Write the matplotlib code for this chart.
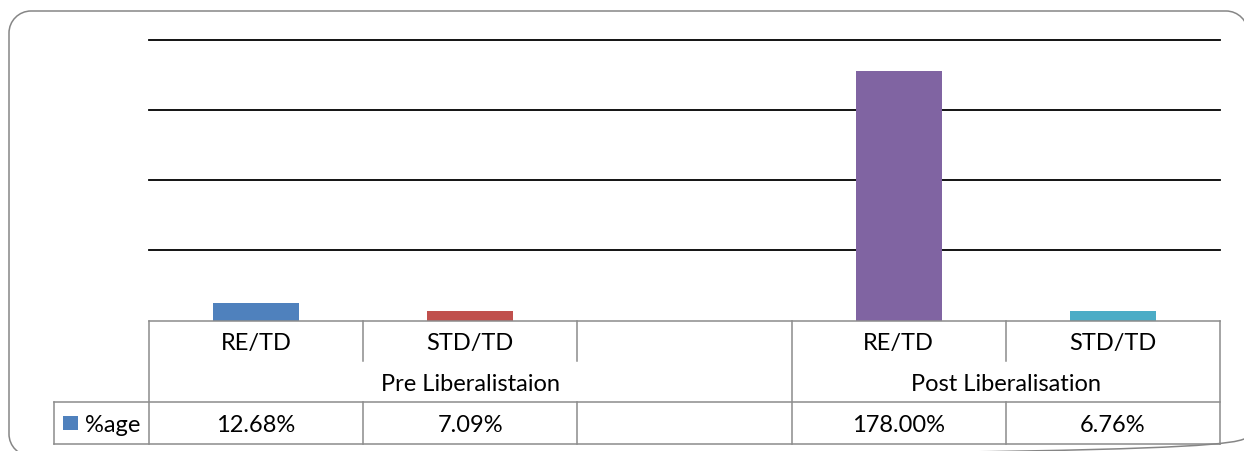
import matplotlib
matplotlib.use("Agg")
import matplotlib.pyplot as plt
from matplotlib.patches import Rectangle, PathPatch
from matplotlib.path import Path
from matplotlib.transforms import blended_transform_factory, Affine2D

# ---- data ----
categories = ["RE/TD", "STD/TD", "", "RE/TD", "STD/TD"]
groups = ["Pre Liberalistaion", "Post Liberalisation"]
group_sizes = [3, 2]
values = [12.68, 7.09, None, 178.00, 6.76]
series_name = "%age"
bar_colors = ["#4F81BD", "#C0504D", "#9BBB59", "#8064A2", "#4BACC6"]
y_ticks = [50, 100, 150, 200]

W, H, DPI = 1244, 452, 100
plt.rcParams['font.family'] = ['Lato', 'DejaVu Sans']
FS = 17
LINE_C = "#8C8C8C"

fig = plt.figure(figsize=(W / DPI, H / DPI), dpi=DPI)
fig.patch.set_facecolor("white")

def fy(py):
    return (H - py) / H

def fx(px):
    return px / W

ax_left, ax_right, ax_top, ax_bottom = 149, 1220, 41, 321.5
ax = fig.add_axes([fx(ax_left), fy(ax_bottom), fx(ax_right) - fx(ax_left), fy(ax_top) - fy(ax_bottom)])
ax.set_xlim(-0.5, len(categories) - 0.5)
ax.set_ylim(0, 200)
for s in ax.spines.values():
    s.set_visible(False)
ax.set_yticks(y_ticks)
ax.set_xticks([])
ax.tick_params(axis='y', length=0, labelleft=False)
ax.yaxis.grid(True, color="black", linewidth=1.3)
for gl in ax.get_ygridlines():
    gl.set_clip_on(False)
ax.set_axisbelow(True)

for i, v in enumerate(values):
    if v is None:
        continue
    ax.bar(i, v, width=0.4, color=bar_colors[i], zorder=3)

# ---- data table below axes ----
bt = blended_transform_factory(ax.transData, fig.transFigure)
r0, r1, r2, r3 = fy(321.5), fy(362), fy(403), fy(444.5)
n = len(categories)
xl, xr = -0.5, n - 0.5
toff = 2.0 / H  # small downward text offset

def line(xs, ys, transform=bt):
    ax.plot(xs, ys, color=LINE_C, lw=1.1, transform=transform, clip_on=False, zorder=4,
            solid_capstyle='projecting')

line([xl, xr], [r0, r0])
line([xl, xl], [r0, r3])
line([xr, xr], [r0, r3])
bounds = []
acc = 0
for gsz in group_sizes[:-1]:
    acc += gsz
    bounds.append(acc)
for k in range(1, n):
    xb = k - 0.5
    if k in bounds:
        line([xb, xb], [r0, r3])
    else:
        line([xb, xb], [r0, r1])
        line([xb, xb], [r2, r3])

legend_left_data = ax.transData.inverted().transform(fig.transFigure.transform((fx(54), 0)))[0]
line([legend_left_data, xr], [r2, r2])
line([legend_left_data, xr], [r3, r3])
line([legend_left_data, legend_left_data], [r2, r3])

for i, c in enumerate(categories):
    ax.text(i, (r0 + r1) / 2 - toff, c, transform=bt, ha='center', va='center', fontsize=FS, color='black')
start = 0
for g, gsz in zip(groups, group_sizes):
    center = start + (gsz - 1) / 2
    ax.text(center, (r1 + r2) / 2 - toff, g, transform=bt, ha='center', va='center', fontsize=FS, color='black')
    start += gsz
for i, v in enumerate(values):
    if v is None:
        continue
    ax.text(i, (r2 + r3) / 2 - toff, f"{v:.2f}%", transform=bt, ha='center', va='center', fontsize=FS, color='black')

fig.patches.append(Rectangle((fx(63), fy(431)), fx(78) - fx(63), fy(417) - fy(431),
                             transform=fig.transFigure, facecolor=bar_colors[0], edgecolor='none'))
fig.text(fx(85), (r2 + r3) / 2 - toff, series_name, ha='left', va='center', fontsize=FS, color='black')

# rounded chart border (open on the right side, which lies off the canvas)
px_tr = Affine2D().scale(1.0 / W, -1.0 / H).translate(0, 1) + fig.transFigure  # y down, ref pixels
x0, y0, x1, y1, r = 9, 12, 1248, 457, 22
k = 0.5523 * r
verts = [
    (x1, y0 + r),
    (x1, y0 + r - k), (x1 - r + k, y0), (x1 - r, y0),          # top-right arc
    (x0 + r, y0),                                             # top line
    (x0 + r - k, y0), (x0, y0 + r - k), (x0, y0 + r),          # top-left arc
    (x0, y1 - r),                                             # left line
    (x0, y1 - r + k), (x0 + r - k, y1), (x0 + r, y1),          # bottom-left arc
    (x1 - r, y1),                                             # bottom line
    (x1 - r + k, y1), (x1, y1 - r + k), (x1, y1 - r),          # bottom-right arc
]
codes = ([Path.MOVETO] + [Path.CURVE4] * 3 + [Path.LINETO] + [Path.CURVE4] * 3 +
         [Path.LINETO] + [Path.CURVE4] * 3 + [Path.LINETO] + [Path.CURVE4] * 3)
border = PathPatch(Path(verts, codes), transform=px_tr, facecolor='none',
                   edgecolor="#868686", linewidth=1.1, clip_on=False)
fig.patches.append(border)

fig.savefig("out.png", dpi=DPI, facecolor="white")
